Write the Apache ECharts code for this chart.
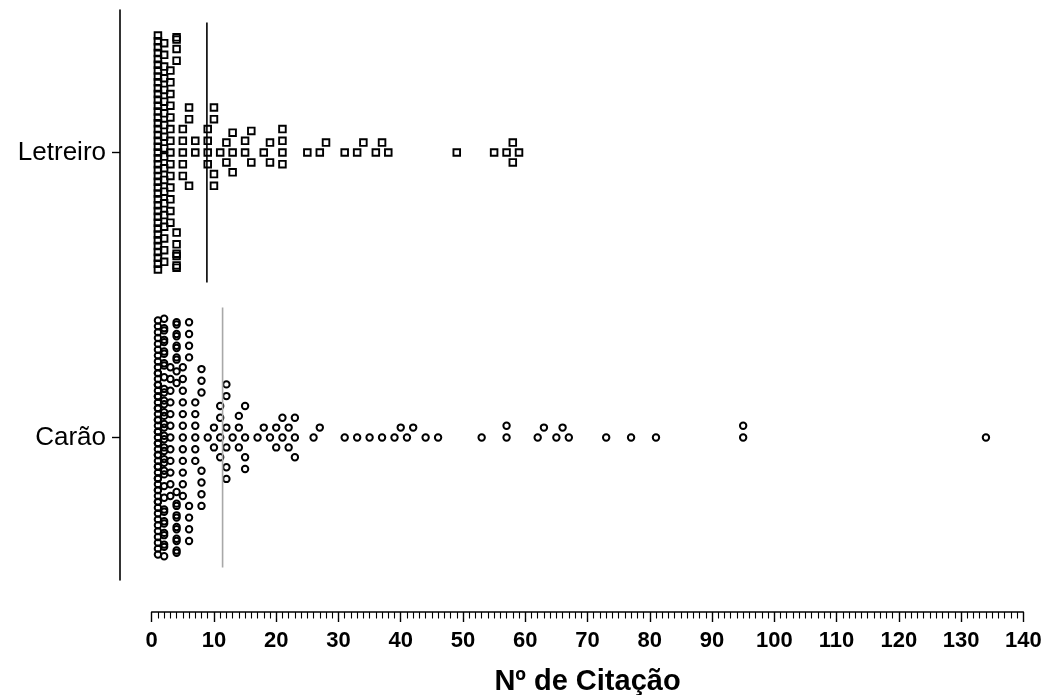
<!DOCTYPE html>
<html>
<head>
<meta charset="utf-8">
<script src="https://cdn.jsdelivr.net/npm/echarts@6/dist/echarts.min.js"></script>
<style>
  html, body { margin: 0; padding: 0; background: #fff; }
  #chart { width: 1046px; height: 695px; }
</style>
</head>
<body>
<div id="chart"></div>
<script>
// Citation counts: distinct values and how many species share each value
const groupNames = ['Carão', 'Letreiro'];

const letreiroValues = [1, 2, 3, 4, 5, 6, 7, 9, 10, 11, 12, 13, 15, 16, 18, 19, 21, 25, 27, 28, 31, 33, 34, 36, 37, 38, 49, 55, 57, 58, 59];
const letreiroCounts = [41, 20, 14, 10, 5, 3, 2, 4, 4, 1, 2, 3, 2, 2, 1, 2, 4, 1, 1, 1, 1, 1, 1, 1, 1, 1, 1, 1, 1, 2, 1];

const caraoValues = [1, 2, 3, 4, 5, 6, 7, 8, 9, 10, 11, 12, 13, 14, 15, 17, 18, 19, 20, 21, 22, 23, 26, 27, 31, 33, 35, 37, 39, 40, 41, 42, 44, 46, 53, 57, 62, 63, 65, 66, 67, 73, 77, 81, 95, 134];
const caraoCounts = [53, 37, 12, 21, 12, 8, 6, 7, 1, 2, 4, 6, 1, 3, 4, 1, 1, 1, 2, 2, 2, 3, 1, 1, 1, 1, 1, 1, 1, 1, 1, 1, 1, 1, 1, 2, 1, 1, 1, 1, 1, 1, 1, 1, 2, 1];

const xTicks = [0, 10, 20, 30, 40, 50, 60, 70, 80, 90, 100, 110, 120, 130, 140];

// ---- layout constants ----
const W = 1046, H = 695;
const GRID = { left: 151.7, right: 22.7, top: 10, height: 570 };
const X_MIN = 0, X_MAX = 140;
const Y_MIN = 0.5, Y_MAX = 2.5;           // group centres at 1 and 2
const PX_PER_X = (W - GRID.left - GRID.right) / (X_MAX - X_MIN);
const PX_PER_Y = GRID.height / (Y_MAX - Y_MIN);
const DOT = 11.7;                         // swarm spacing in pixels
const CORRAL = 20.5 * DOT;                // full width of the corral (wrap)

function expand(values, counts) {
  const out = [];
  values.forEach((v, i) => { for (let k = 0; k < counts[i]; k++) out.push(v); });
  return out;
}

// Bee swarm: points placed in ascending order, each at the smallest free offset
function swarm(values) {
  const order = values.map((v, i) => i).sort((a, b) => values[a] - values[b]);
  const placed = [];
  const offs = new Array(values.length);
  for (const i of order) {
    const x = values[i] * PX_PER_X / DOT;
    const near = placed.filter(p => Math.abs(p.x - x) < 1);
    let y = 0;
    if (near.length) {
      const cands = [0];
      near.forEach(p => cands.push(p.y + Math.sqrt(1 - (x - p.x) ** 2)));
      near.forEach(p => cands.push(p.y - Math.sqrt(1 - (x - p.x) ** 2)));
      let best = Infinity;
      for (const c of cands) {
        if (near.some(p => (x - p.x) ** 2 + (c - p.y) ** 2 < 0.999)) continue;
        if (Math.abs(c) < Math.abs(best) - 1e-9) best = c;
      }
      y = best;
    }
    placed.push({ x, y });
    offs[i] = y * DOT;
  }
  // points beyond the corral wrap round to the other side
  return offs.map(o => {
    const m = ((o + CORRAL / 2) % CORRAL + CORRAL) % CORRAL;
    return m - CORRAL / 2;
  });
}

function buildPoints(values, counts, centre) {
  const vals = expand(values, counts);
  const offs = swarm(vals);
  return vals.map((v, i) => [v, centre + offs[i] / PX_PER_Y]);
}

function mean(values, counts) {
  let s = 0, n = 0;
  values.forEach((v, i) => { s += v * counts[i]; n += counts[i]; });
  return s / n;
}

const letreiroPts = buildPoints(letreiroValues, letreiroCounts, 2);
const caraoPts = buildPoints(caraoValues, caraoCounts, 1);
const LINE_HALF = 130 / PX_PER_Y;
const letreiroMean = mean(letreiroValues, letreiroCounts);
const caraoMean = mean(caraoValues, caraoCounts);

const chart = echarts.init(document.getElementById('chart'), null, { renderer: 'canvas', width: W, height: H });
const FONT = 'Liberation Sans, Arial, sans-serif';

chart.setOption({
  backgroundColor: '#ffffff',
  animation: false,
  grid: {
    left: GRID.left, right: GRID.right, top: GRID.top, height: GRID.height,
    containLabel: false, outerBoundsMode: 'none'
  },
  xAxis: {
    type: 'value', min: X_MIN, max: X_MAX, interval: 10,
    offset: 32,
    axisLine: { show: true, onZero: false, lineStyle: { color: '#000', width: 1.6 } },
    axisTick: { show: true, length: 10, lineStyle: { color: '#000', width: 1.4 } },
    minorTick: { show: true, splitNumber: 10, length: 6.5, lineStyle: { color: '#000', width: 1.1 } },
    splitLine: { show: false },
    axisLabel: {
      margin: 18, color: '#000', fontFamily: FONT, fontWeight: 'bold', fontSize: 22,
      formatter: v => (xTicks.indexOf(v) >= 0 ? String(v) : '')
    },
    name: 'Nº de Citação', nameLocation: 'middle', nameGap: 55,
    nameTextStyle: { color: '#000', fontFamily: FONT, fontWeight: 'bold', fontSize: 29 }
  },
  yAxis: [
    {
      type: 'category', data: groupNames, position: 'left', offset: GRID.left - 120,
      boundaryGap: true,
      axisLine: { show: true, onZero: false, lineStyle: { color: '#000', width: 1.6 } },
      axisTick: { show: true, alignWithLabel: true, length: 8, lineStyle: { color: '#000', width: 1.4 } },
      axisLabel: { margin: 14, color: '#000', fontFamily: FONT, fontSize: 26 },
      splitLine: { show: false }
    },
    {
      type: 'value', min: Y_MIN, max: Y_MAX, show: false,
      axisLine: { show: false, onZero: false }, axisTick: { show: false }, axisLabel: { show: false }, splitLine: { show: false }
    }
  ],
  series: [
    {
      name: 'Letreiro', type: 'scatter', yAxisIndex: 1, data: letreiroPts,
      symbol: 'rect', symbolSize: 6.6,
      itemStyle: { color: 'rgba(0,0,0,0)', borderColor: '#000', borderWidth: 1.9, opacity: 1 }
    },
    {
      name: 'Carão', type: 'scatter', yAxisIndex: 1, data: caraoPts,
      symbol: 'circle', symbolSize: 6.4,
      itemStyle: { color: 'rgba(0,0,0,0)', borderColor: '#000', borderWidth: 2, opacity: 1 }
    },
    {
      name: 'Média Letreiro', type: 'line', yAxisIndex: 1, symbol: 'none',
      data: [[letreiroMean, 2 - LINE_HALF], [letreiroMean, 2 + LINE_HALF]],
      lineStyle: { color: '#000', width: 1.6 }
    },
    {
      name: 'Média Carão', type: 'line', yAxisIndex: 1, symbol: 'none',
      data: [[caraoMean, 1 - LINE_HALF], [caraoMean, 1 + LINE_HALF]],
      lineStyle: { color: '#a8a8a8', width: 1.6 }
    }
  ]
});
</script>
</body>
</html>
